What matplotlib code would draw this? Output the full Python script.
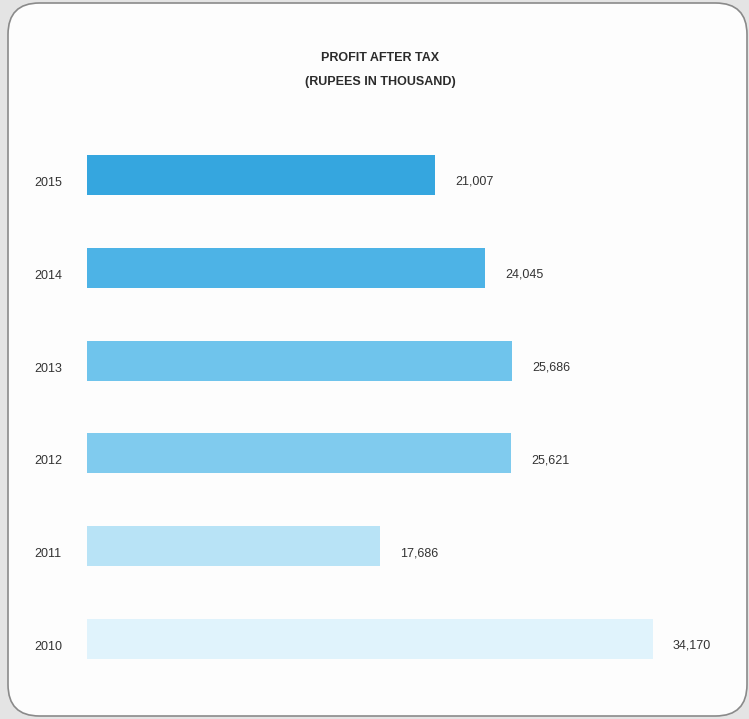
import matplotlib.pyplot as plt
from matplotlib.patches import FancyBboxPatch

years = ['2010', '2011', '2012', '2013', '2014', '2015']
profit = [34170, 17686, 25621, 25686, 24045, 21007]
colors = ['#e0f3fc', '#b8e3f6', '#80cbee', '#6fc4ec', '#4db3e6', '#35a6df']

W, H = 749, 719
plt.rcParams['font.family'] = ['Liberation Sans', 'DejaVu Sans']

fig = plt.figure(figsize=(W / 100, H / 100), dpi=100)
fig.patch.set_facecolor('#e4e4e4')

# rounded white card behind the chart (kept below the axes)
card = FancyBboxPatch((8 / W, 3 / H), 739 / W, 713 / H,
                      boxstyle='round,pad=0,rounding_size=0.042',
                      transform=fig.transFigure, facecolor='#fdfdfd',
                      edgecolor='#8a8a8a', linewidth=1.2,
                      mutation_aspect=W / H, zorder=-10)
fig.patches.append(card)

# axes: x=0 at pixel 87, bars span 92.8 px per row
left, right = 87, 700
top, bottom = 110, 700
ax = fig.add_axes([left / W, 1 - bottom / H, (right - left) / W, (bottom - top) / H])
ax.set_facecolor('none')
px_per_unit = (653 - 87) / 34170
ax.set_xlim(0, (right - left) / px_per_unit)
ax.set_ylim(-(bottom - 639) / 92.8, 5 + (175 - top) / 92.8)

ypos = range(len(years))
ax.barh(ypos, profit, height=0.43, color=colors)

# labels sit a little below the bar centre line
for y, v, yr in zip(ypos, profit, years):
    ax.annotate(f'{v:,}', (v, y), xytext=(20, -7), textcoords='offset pixels',
                va='center', ha='left', fontsize=9, color='#333333')
    ax.annotate(yr, (0, y), xytext=(-53, -8), textcoords='offset pixels',
                va='center', ha='left', fontsize=9, color='#333333')

ax.axis('off')

fig.text(380 / W, 1 - 58 / H, 'PROFIT AFTER TAX', ha='center', va='center',
         fontsize=9, fontweight='bold', color='#2b2b2b')
fig.text(380 / W, 1 - 82 / H, '(RUPEES IN THOUSAND)', ha='center', va='center',
         fontsize=9, fontweight='bold', color='#2b2b2b')

fig.savefig('out.png', dpi=100, facecolor=fig.get_facecolor())
